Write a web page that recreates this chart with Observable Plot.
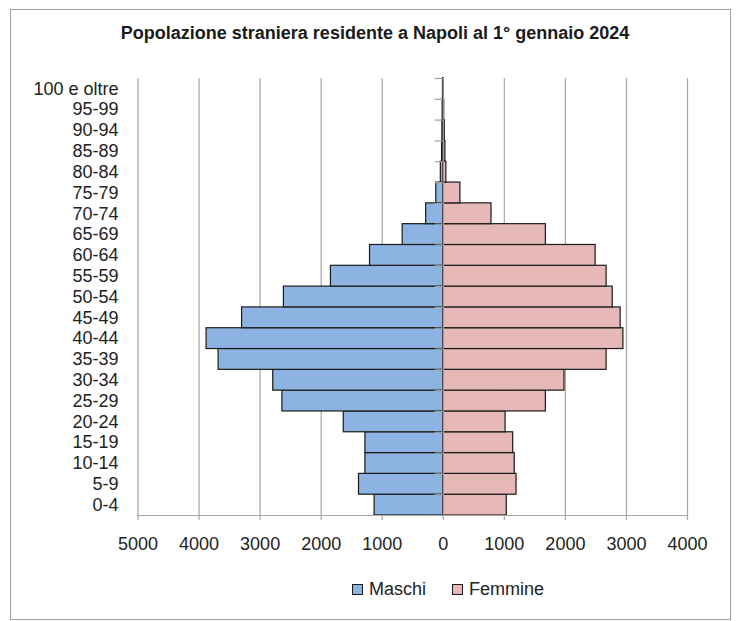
<!DOCTYPE html>
<html>
<head>
<meta charset="utf-8">
<script src="https://cdn.jsdelivr.net/npm/d3@7"></script>
<script src="https://cdn.jsdelivr.net/npm/@observablehq/plot@0.6"></script>
<style>
  html, body { margin: 0; padding: 0; background: #fff; }
  body { width: 736px; height: 621px; position: relative; overflow: hidden;
         font-family: "Liberation Sans", Arial, sans-serif; color: #222; }
  #frame { position: absolute; left: 10px; top: 9px; width: 721px; height: 611px;
           box-sizing: border-box; border: 1px solid #a0a0a0; }
  #title { position: absolute; left: 0; top: 24px; width: 750px; text-align: center;
           font-weight: bold; font-size: 18px; line-height: 18px; color: #1a1a1a; }
  #chart { position: absolute; left: 11px; top: 60px; }
  #legend { position: absolute; top: 579px; left: 0; width: 736px; height: 20px; font-size: 18px; }
  .item { position: absolute; top: 0; display: flex; align-items: center; height: 20px; }
  .sw { width: 9px; height: 9px; border: 1px solid #1a1a1a; margin-right: 6px; }
</style>
</head>
<body>
<div id="frame"></div>
<div id="title">Popolazione straniera residente a Napoli al 1° gennaio 2024</div>
<div id="chart"></div>
<div id="legend"></div>
<script>
const ages = ["0-4","5-9","10-14","15-19","20-24","25-29","30-34","35-39","40-44","45-49",
  "50-54","55-59","60-64","65-69","70-74","75-79","80-84","85-89","90-94","95-99","100 e oltre"];
const maschi = [1125,1380,1275,1275,1630,2635,2785,3680,3877,3295,2610,1840,1200,665,280,115,40,20,15,10,5];
const femmine = [1040,1200,1170,1145,1020,1680,1985,2675,2950,2905,2775,2675,2495,1680,790,280,50,35,25,15,10];
const series = ["Maschi","Femmine"];
const colors = ["#8db3e2","#e6b9b8"];
const xTicks = [-5000,-4000,-3000,-2000,-1000,0,1000,2000,3000,4000];

const data = ages.flatMap((a, i) => [
  {age: a, sex: "Maschi", v: -maschi[i]},
  {age: a, sex: "Femmine", v: femmine[i]}
]);

const plotHeight = 500, marginTop = 18, marginBottom = 45;
const bw = (plotHeight - marginTop - marginBottom) / ages.length;

const chart = Plot.plot({
  width: 720,
  height: plotHeight,
  marginLeft: 126.5,
  marginRight: 44,
  marginTop,
  marginBottom,
  style: {fontFamily: "'Liberation Sans', Arial, sans-serif", fontSize: "18px", color: "#222", background: "transparent"},
  x: {domain: [-5000, 4000], ticks: xTicks, tickFormat: d => String(Math.abs(d))},
  y: {domain: ages.slice().reverse(), padding: 0, round: false},
  color: {domain: series, range: colors},
  marks: [
    Plot.ruleX(xTicks.filter(d => d !== 0), {stroke: "#a6a6a6", strokeWidth: 1.2, strokeOpacity: 1}),
    Plot.barX(data, {x: "v", y: "age", fill: "sex", stroke: "#1a1a1a", strokeWidth: 1.2, inset: 0}),
    Plot.ruleX([0], {stroke: "#a0a0a0", strokeWidth: 1.2}),
    Plot.ruleY(ages, {y: d => d, x1: -130, x2: 0, dy: -bw / 2, stroke: "#a0a0a0", strokeWidth: 1.2}),
    Plot.frame({anchor: "bottom", stroke: "#a6a6a6", strokeWidth: 1.2}),
    Plot.axisX({ticks: xTicks, tickFormat: d => String(Math.abs(d)), tickSize: 5, tickPadding: 17,
      stroke: "#a6a6a6", strokeWidth: 1.2, fill: "#222", label: null}),
    Plot.axisY({tickSize: 0, tickPadding: 19.5, label: null, fill: "#222"})
  ]
});
document.getElementById("chart").appendChild(chart);

const legend = document.getElementById("legend");
const pos = [352, 452];
series.forEach((s, i) => {
  const it = document.createElement("div");
  it.className = "item";
  it.style.left = pos[i] + "px";
  const sw = document.createElement("div");
  sw.className = "sw";
  sw.style.background = colors[i];
  const t = document.createElement("span");
  t.textContent = s;
  it.appendChild(sw);
  it.appendChild(t);
  legend.appendChild(it);
});
</script>
</body>
</html>
